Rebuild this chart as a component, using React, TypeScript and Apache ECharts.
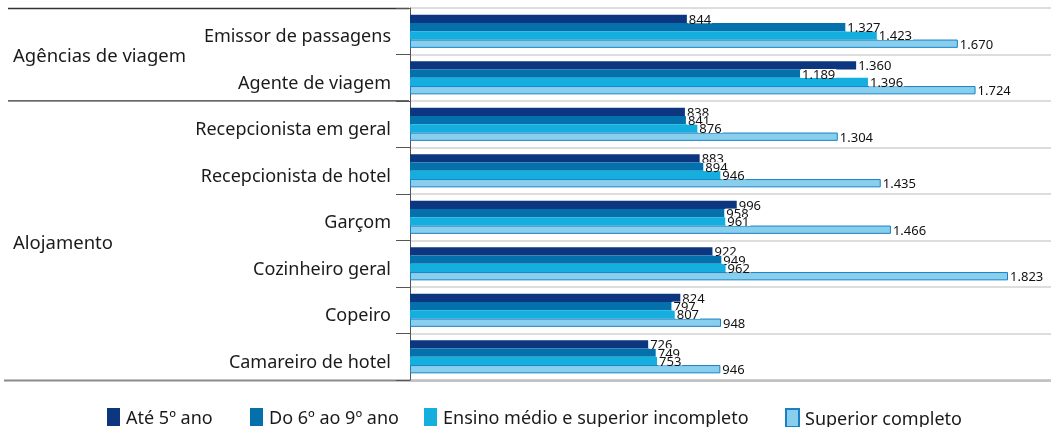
import React, { useEffect, useRef } from "react";
import * as echarts from "echarts";

const categories = [
  "Emissor de passagens",
  "Agente de viagem",
  "Recepcionista em geral",
  "Recepcionista de hotel",
  "Garçom",
  "Cozinheiro geral",
  "Copeiro",
  "Camareiro de hotel",
];

const seriesNames = [
  "Até 5º ano",
  "Do 6º ao 9º ano",
  "Ensino médio e superior incompleto",
  "Superior completo",
];

const ate5 = [844, 1360, 838, 883, 996, 922, 824, 726];
const do6a9 = [1327, 1189, 841, 894, 958, 949, 797, 749];
const medio = [1423, 1396, 876, 946, 961, 962, 807, 753];
const superior = [1670, 1724, 1304, 1435, 1466, 1823, 948, 946];

const groups = ["Agências de viagem", "Alojamento"];

const colors = ["#0c3680", "#0471ad", "#14aedf", "#88cfee"];
const FONT = "'Noto Sans', sans-serif";

function fmt(v: number): string {
  if (v >= 1000) {
    return Math.floor(v / 1000) + "." + String(v % 1000).padStart(3, "0");
  }
  return String(v);
}

export default function App() {
  const ref = useRef<HTMLDivElement>(null);

  useEffect(() => {
    const chart = echarts.init(ref.current!, null, { renderer: "svg" });
    const data = [ate5, do6a9, medio, superior];
    const legendLefts = [107, 250, 424, 785];

    const option: any = {
      animation: false,
      textStyle: { fontFamily: FONT },
      grid: { left: 410, right: 0, top: 8, bottom: 47, containLabel: false },
      xAxis: {
        type: "value",
        min: 0,
        max: 1954,
        show: false,
        splitLine: { show: false },
      },
      yAxis: {
        type: "category",
        data: categories,
        inverse: true,
        axisLine: { show: true, lineStyle: { color: "#555", width: 1 } },
        axisTick: { show: true, length: 14, lineStyle: { color: "#555", width: 1 } },
        splitLine: { show: true, lineStyle: { color: "#d2d2d2", width: 1.5 } },
        axisLabel: {
          margin: 19,
          formatter: (v: string) => "{a|" + v + "}",
          rich: {
            a: {
              fontSize: 18,
              color: "#1a1a1a",
              fontFamily: FONT,
              padding: [8, 0, 0, 0],
            },
          },
        },
      },
      legend: seriesNames.map((n, i) => ({
        data: [n],
        left: legendLefts[i],
        top: 408,
        icon: "rect",
        itemWidth: 13,
        itemHeight: 18,
        padding: 0,
        textStyle: {
          fontSize: 18,
          color: "#1a1a1a",
          fontFamily: FONT,
          padding: [0, 0, 0, 1],
        },
      })),
      series: seriesNames.map((n, i) => ({
        name: n,
        type: "bar",
        data: data[i],
        barWidth: 8.3,
        barGap: "0%",
        itemStyle:
          i === 3
            ? { color: colors[i], borderColor: "#1a80c4", borderWidth: 1 }
            : { color: colors[i] },
        label: {
          show: true,
          position: "right",
          distance: 1,
          fontSize: 13,
          lineHeight: 9,
          color: "#111",
          backgroundColor: "#fff",
          padding: [0, 1],
          fontFamily: FONT,
          formatter: (p: any) => fmt(p.value),
        },
      })),
      graphic: [
        {
          type: "line",
          shape: { x1: 8, y1: 8.5, x2: 409, y2: 8.5 },
          style: { stroke: "#333", lineWidth: 1.3 },
        },
        {
          type: "line",
          shape: { x1: 8, y1: 100.8, x2: 409, y2: 100.8 },
          style: { stroke: "#333", lineWidth: 1.3 },
        },
        {
          type: "line",
          shape: { x1: 4, y1: 380.5, x2: 1051, y2: 380.5 },
          style: { stroke: "#8a8a8a", lineWidth: 2 },
        },
        {
          type: "text",
          x: 13,
          y: 54,
          style: {
            text: groups[0],
            fontSize: 18.5,
            fill: "#1a1a1a",
            fontFamily: FONT,
            verticalAlign: "middle",
          },
        },
        {
          type: "text",
          x: 13,
          y: 241,
          style: {
            text: groups[1],
            fontSize: 18.5,
            fill: "#1a1a1a",
            fontFamily: FONT,
            verticalAlign: "middle",
          },
        },
      ],
    };

    chart.setOption(option);
    return () => chart.dispose();
  }, []);

  return (
    <div
      ref={ref}
      style={{ position: "fixed", left: 0, top: 0, width: 1051, height: 427 }}
    />
  );
}
